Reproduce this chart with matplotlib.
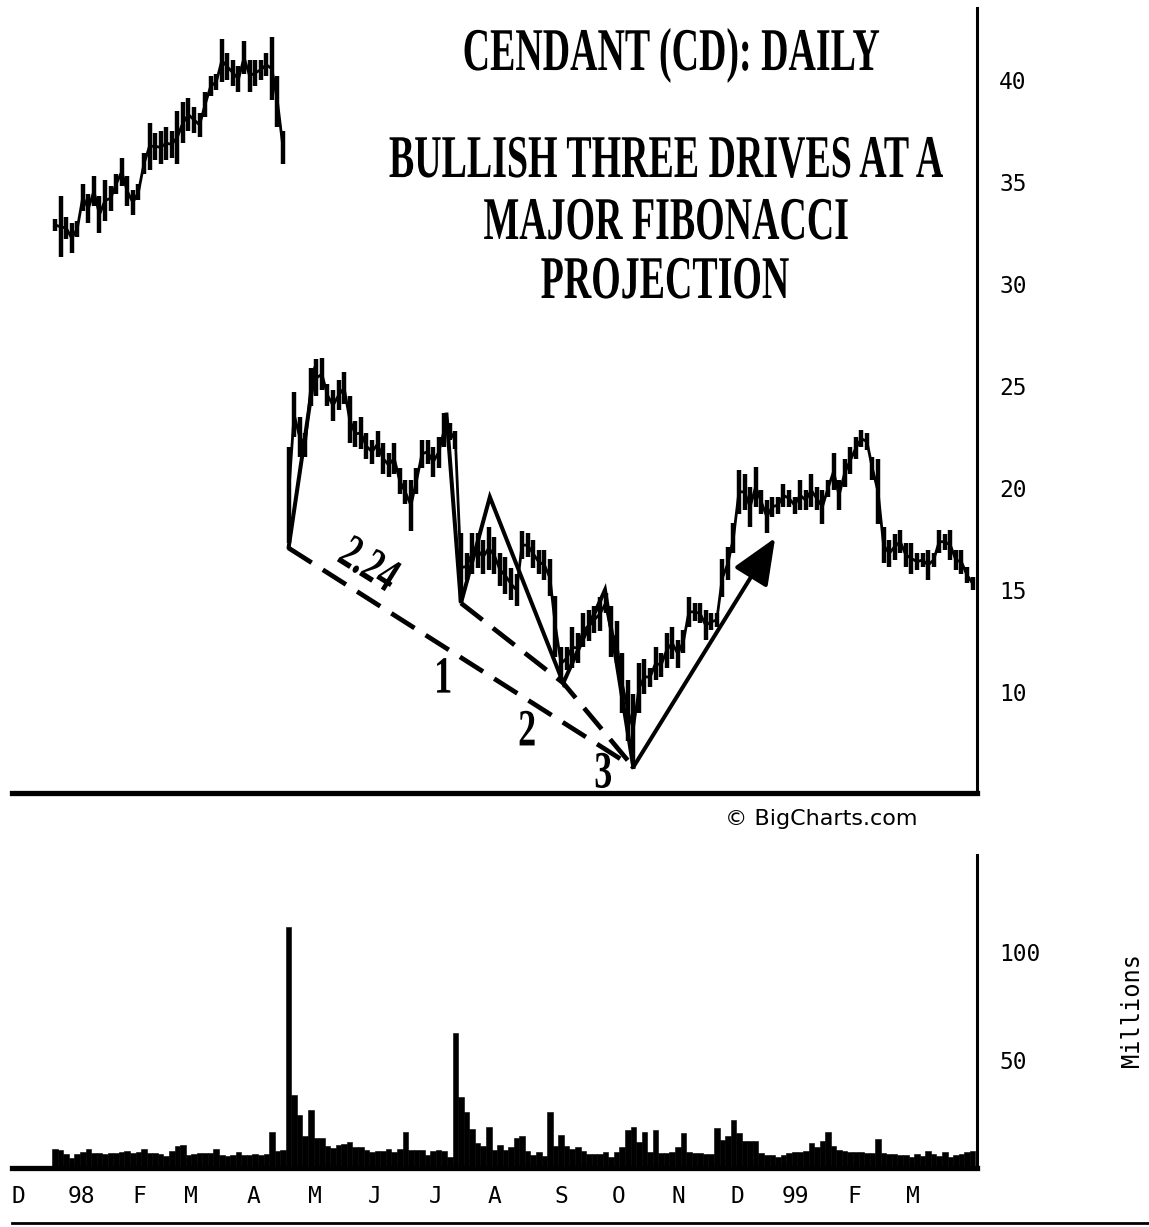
import numpy as np
import matplotlib
matplotlib.use("Agg")
import matplotlib.pyplot as plt
from matplotlib.patheffects import AbstractPathEffect
from matplotlib.transforms import Affine2D
from matplotlib.lines import Line2D

# one bar = two trading days, Dec 1997 .. Mar 1999
price_hi = [33.2, 34.3, 33.3, 33.0, 33.1, 34.9, 34.4, 35.3, 34.3, 35.1, 34.8, 35.4, 36.2, 35.3,
            34.6, 34.9, 36.4, 37.9, 37.4, 37.5, 37.7, 37.5, 38.5, 38.9, 39.1, 38.7, 38.4, 39.4,
            40.2, 40.3, 42.0, 41.3, 41.0, 40.7, 41.9, 41.0, 41.0, 41.0, 41.3, 42.1, 40.2, 37.5,
            22.0, 24.7, 23.5, 22.7, 25.9, 26.3, 26.35, 25.1, 24.8, 25.3, 25.7, 24.5, 23.3, 23.5,
            22.7, 22.35, 22.8, 22.2, 21.7, 22.2, 21.0, 20.4, 20.4, 21.0, 22.35, 22.35, 22.0, 22.5,
            23.7, 23.2, 22.8, 17.8, 16.8, 17.8, 17.8, 17.45, 18.1, 17.6, 16.8, 16.6, 16.1, 15.8,
            17.9, 17.8, 17.45, 16.95, 16.96, 16.5, 14.7, 12.2, 12.2, 13.2, 12.9, 13.85, 14.0, 14.2,
            14.67, 14.83, 14.2, 13.5, 11.9, 10.6, 9.9, 11.4, 11.6, 11.2, 12.2, 11.9, 12.9, 13.2,
            12.55, 13.04, 14.67, 14.35, 14.35, 14.0, 13.85, 13.85, 16.5, 17.1, 18.3, 20.9, 20.7,
            20.06, 21.04, 19.9, 19.4, 19.57, 19.57, 20.2, 19.9, 19.57, 20.4, 19.9, 20.7, 20.06,
            19.9, 20.4, 21.7, 20.4, 21.4, 22.0, 22.5, 22.84, 22.7, 21.5, 21.4, 18.1, 17.45, 17.77,
            17.94, 17.3, 17.3, 16.8, 16.8, 16.96, 16.8, 17.94, 17.77, 17.94, 16.96, 16.96, 16.14,
            15.65]
price_lo = [32.6, 31.3, 32.2, 31.5, 32.3, 33.6, 33.0, 33.8, 32.5, 33.1, 33.6, 34.4, 34.8, 33.8,
            33.4, 34.1, 35.4, 35.6, 36.1, 35.9, 36.1, 36.2, 35.9, 36.9, 37.5, 37.4, 37.2, 38.2,
            39.2, 39.5, 39.9, 40.0, 39.7, 39.4, 40.3, 39.4, 39.7, 40.0, 40.2, 39.0, 37.7, 35.9,
            17.3, 22.5, 21.5, 21.5, 24.0, 24.5, 24.8, 24.0, 23.3, 23.8, 24.1, 22.2, 22.0, 21.9,
            21.4, 21.2, 21.5, 20.7, 20.55, 20.7, 19.7, 19.2, 17.9, 19.7, 21.0, 21.2, 20.55, 21.0,
            22.0, 22.35, 21.9, 14.4, 15.5, 15.8, 16.1, 15.8, 16.0, 15.8, 15.2, 14.8, 14.5, 14.2,
            16.5, 16.6, 16.1, 15.8, 15.5, 14.7, 11.7, 10.6, 11.1, 11.2, 11.4, 12.2, 12.5, 12.9,
            13.0, 13.85, 11.7, 11.4, 8.95, 7.6, 6.5, 8.95, 9.9, 10.25, 10.6, 10.75, 11.2, 11.6,
            11.2, 11.9, 13.2, 13.5, 13.36, 12.55, 13.04, 13.2, 14.67, 15.5, 16.8, 18.75, 18.9,
            18.1, 19.08, 18.75, 17.8, 18.6, 18.75, 19.08, 19.08, 18.75, 18.9, 18.9, 19.08, 18.9,
            18.26, 19.57, 19.9, 18.9, 20.06, 20.7, 21.4, 22.0, 21.86, 20.4, 18.26, 16.3, 16.14,
            16.47, 16.8, 16.14, 15.8, 15.98, 16.14, 15.49, 16.14, 16.8, 16.96, 16.47, 15.98,
            15.8, 15.33, 15.0]
volume = [9, 8.5, 6.5, 4.5, 6.5, 7.5, 9, 7, 7, 6.5, 7, 7, 7.5, 8, 7, 7.5, 9, 7, 7, 6.5, 5.5,
          8, 10, 10.5, 6, 6.5, 6.8, 6.8, 6.8, 9, 6, 5.5, 6, 7.5, 6, 6, 6.5, 6.2, 6.5, 16.5, 8,
          8.5,
          111.6, 34, 24.5, 15, 27, 14, 14, 10, 9.2, 10.5, 11, 12, 9.5, 9.5, 8.5, 7.5, 8, 8, 9,
          7.5, 9, 16.8, 8.5, 8.5, 8.5, 6, 8, 8.5, 8, 5, 62.5, 33, 26, 18, 11.4, 10, 19, 8.5,
          10.5, 8.5, 9.9, 14, 15, 8, 6.2, 7.6,
          5.5, 26, 10, 15.3, 10, 9, 9.5, 8, 6.5, 6.5, 6.5, 7.5, 5, 7.5, 9.5, 17.6, 19, 12, 16.8,
          7.5, 17.6, 7, 7, 7.5, 9.5, 16, 7.5, 7, 7, 6.5, 6.5, 18.4, 13, 14.6, 22.2, 16, 12.5,
          12.5, 12.5, 7, 6, 6, 5, 6, 7, 7.5, 7.5, 8, 11.4, 9.5, 12.5, 16.8, 10, 8.5, 8, 7.5,
          7.5, 7.2, 6.8, 6.8, 13.5, 7, 6.5, 6.5, 6, 6, 5, 6.5, 5.5, 7.8, 6.5, 5.5, 7.5, 5.2,
          6.2, 6.5, 7.5, 7.8]
crash_bar = 42  # first bar after the April 1998 gap

month_pos = [-6.6, 4.7, 15.1, 24.5, 35.6, 46.8, 57.4, 68.5, 79.1, 91.0, 101.4, 112.1, 122.7,
             133.1, 143.7, 154.3]
month_labels = ["D", "98", "F", "M", "A", "M", "J", "J", "A", "S", "O", "N", "D", "99", "F", "M"]
price_ticks = [10, 15, 20, 25, 30, 35, 40]
volume_ticks = [50, 100]

# hand-drawn three drives annotation (bar index, price)
up_leg_x, up_leg_y = [42.0, 46.8], [17.06, 25.9]
drives_x = [70.4, 73.0, 78.2, 91.4, 98.9, 104.0]
drives_y = [23.6, 14.36, 19.56, 10.44, 15.0, 6.32]
outer_dash_x, outer_dash_y = [42.0, 104.0], [17.06, 6.32]
inner_dash_x, inner_dash_y = [73.0, 91.4, 104.0], [14.36, 10.44, 6.32]
arrow_start, arrow_end = (104.0, 6.32), (129.5, 17.55)
# label text, bar index, price at the baseline
drive_labels = [("1", 69.8, 9.97), ("2", 84.9, 7.38), ("3", 98.6, 5.32)]
ratio_label = ("2.24", 55.1, 15.66)

title_lines = ["CENDANT (CD): DAILY", "BULLISH THREE DRIVES AT A", "MAJOR FIBONACCI", "PROJECTION"]


class Tall(AbstractPathEffect):
    """Stretch glyphs upward from the baseline: a tall, narrow Times look."""

    def __init__(self, sy):
        super().__init__()
        self.sy = sy

    def draw_path(self, renderer, gc, tpath, affine, rgbFace=None):
        renderer.draw_path(gc, tpath, Affine2D().scale(1.0, self.sy) + affine, rgbFace)


W, H = 1149, 1227
fig = plt.figure(figsize=(W / 100, H / 100), dpi=100)


def fx(px):
    return px / W


def fy(py):
    return 1 - py / H


ax = fig.add_axes([fx(12), fy(793), fx(977) - fx(12), fy(8) - fy(793)])
axv = fig.add_axes([fx(12), fy(1168), fx(977) - fx(12), fy(855) - fy(1168)])

bars = np.arange(len(price_hi))
hi = np.array(price_hi)
lo = np.array(price_lo)
ax.vlines(bars, lo, hi, colors="black", linewidth=3.2)
mid = (hi + lo) / 2
for seg in (slice(0, crash_bar), slice(crash_bar, None)):
    ax.plot(bars[seg], mid[seg], color="black", lw=2.0)
axv.bar(np.arange(len(volume)), volume, width=1.0, color="black", edgecolor="black", linewidth=0.4)

# annotation
ax.plot(up_leg_x, up_leg_y, color="black", lw=2.9, solid_capstyle="round")
ax.plot(drives_x, drives_y, color="black", lw=2.9, solid_joinstyle="miter")
ax.plot(outer_dash_x, outer_dash_y, color="black", lw=3.4, linestyle=(0, (5.8, 2.8)))
ax.plot(inner_dash_x, inner_dash_y, color="black", lw=3.4, linestyle=(0, (5.8, 2.8)))
ax.annotate("", xy=arrow_end, xytext=arrow_start,
            arrowprops=dict(arrowstyle="-|>,head_length=1.3,head_width=0.55", color="black",
                            lw=2.9, mutation_scale=22, shrinkA=0, shrinkB=0))
serif = dict(family="Liberation Serif", weight="bold", color="black")
for s, x, y in drive_labels:
    ax.text(x, y, s, ha="center", va="baseline", fontsize=26,
            path_effects=[Tall(1.45)], **serif)
ax.text(ratio_label[1], ratio_label[2], ratio_label[0], ha="center", va="baseline",
        rotation=-32, rotation_mode="anchor", fontsize=25,
        path_effects=[Tall(1.4)], **serif)

for a in (ax, axv):
    a.set_xlim(-7.73, 165.8)
    a.spines["top"].set_visible(False)
    a.spines["left"].set_visible(False)
    a.spines["right"].set_linewidth(2.2)
    a.spines["bottom"].set_linewidth(3.8)
    a.yaxis.tick_right()
    a.tick_params(axis="y", length=0, pad=16, labelsize=16.5, labelfontfamily="DejaVu Sans Mono")
    a.tick_params(axis="x", length=0, pad=12, labelsize=16.5, labelfontfamily="DejaVu Sans Mono")

ax.set_ylim(5.05, 43.53)
ax.set_yticks(price_ticks)
ax.set_xticks([])

axv.set_ylim(0, 144.9)
axv.set_yticks(volume_ticks)
axv.set_xticks(month_pos)
axv.set_xticklabels(month_labels)

# title block, a tall narrow bold serif
title_base = [70, 177, 239, 298]
title_cx = [671, 666, 666, 665]
for s, cx, by in zip(title_lines, title_cx, title_base):
    fig.text(fx(cx), fy(by), s, ha="center", va="baseline", fontsize=27.3,
             path_effects=[Tall(1.6)], **serif)

fig.text(fx(821), fy(819), "\u00a9 BigCharts.com", ha="center", va="center",
         family="DejaVu Sans", fontsize=16)
fig.text(fx(1132), fy(1010), "Millions", rotation=90, ha="center", va="center",
         family="DejaVu Sans Mono", fontsize=17)

fig.add_artist(Line2D([fx(12), 1.0], [fy(1223), fy(1223)], transform=fig.transFigure,
                      color="black", lw=2))

fig.savefig("out.png", dpi=100)
